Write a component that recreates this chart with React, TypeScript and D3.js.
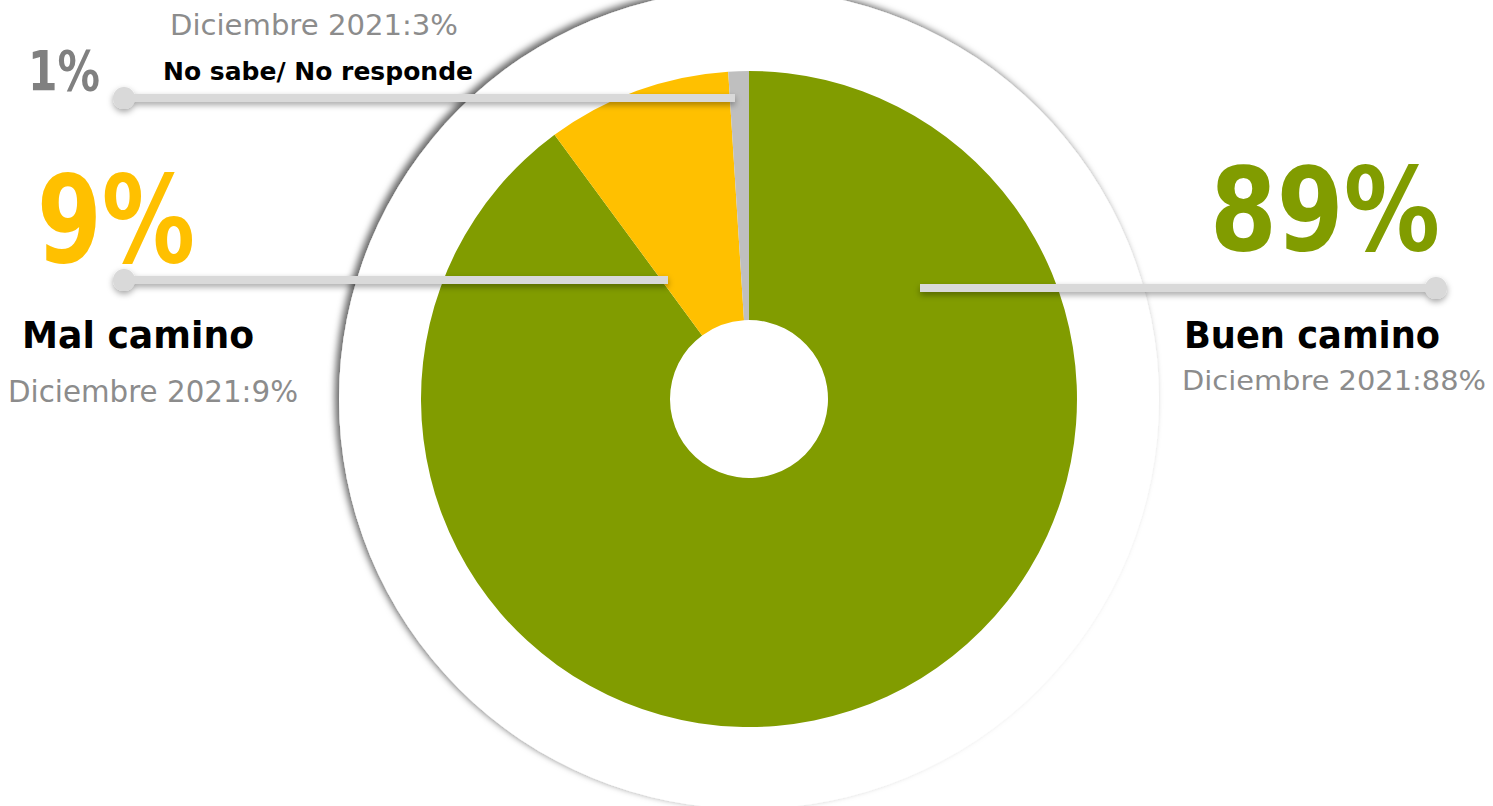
import React from "react";
import * as d3 from "d3";

const categories = ["Buen camino", "Mal camino", "No sabe/ No responde"];
const values = [89, 9, 1];
const previous = ["Diciembre 2021:88%", "Diciembre 2021:9%", "Diciembre 2021:3%"];
const colors = ["#819C00", "#FFC000", "#BFBFBF"];
const pctLabels = ["89%", "9%", "1%"];

const W = 1493;
const H = 806;
const FONT = "'DejaVu Sans', 'Liberation Sans', sans-serif";

export default function App() {
  const cx = 749;
  const cy = 399;
  const outerR = 328;
  const innerR = 79;
  const discR = 410;

  const pie = d3.pie<number>().sort(null).value((d) => d);
  const arcs = pie(values);
  const arcGen = d3.arc<d3.PieArcDatum<number>>().innerRadius(innerR).outerRadius(outerR);

  const lineColor = "#D9D9D9";

  return (
    <div style={{ position: "fixed", left: 0, top: 0, width: W, height: H, overflow: "hidden" }}>
      <svg width={W} height={H} style={{ display: "block" }}>
        <defs>
          <filter id="discShadow" x="-20%" y="-20%" width="140%" height="140%">
            <feDropShadow dx={-4} dy={-3} stdDeviation={3.5} floodColor="#000" floodOpacity={0.6} />
          </filter>
          <filter id="lineShadow" x="-10%" y="-200%" width="120%" height="500%">
            <feDropShadow dx={0} dy={3} stdDeviation={3} floodColor="#000" floodOpacity={0.35} />
          </filter>
        </defs>
        <rect width={W} height={H} fill="#fff" />
        <circle cx={cx} cy={cy} r={discR} fill="#fff" filter="url(#discShadow)" />
        <g transform={`translate(${cx},${cy})`}>
          {arcs.map((a, i) => (
            <path key={categories[i]} d={arcGen(a) || ""} fill={colors[i]} />
          ))}
        </g>

        {/* leader lines */}
        <g filter="url(#lineShadow)">
          <line x1={124} y1={98} x2={735} y2={98} stroke={lineColor} strokeWidth={8} />
          <circle cx={124} cy={98} r={11} fill={lineColor} />
          <line x1={124} y1={280} x2={668} y2={280} stroke={lineColor} strokeWidth={8} />
          <circle cx={124} cy={280} r={11} fill={lineColor} />
          <line x1={920} y1={288} x2={1436} y2={288} stroke={lineColor} strokeWidth={8} />
          <circle cx={1436} cy={288} r={11} fill={lineColor} />
        </g>

        {/* No sabe */}
        <text x={170} y={35} fontFamily={FONT} fontSize={28} fill="#8C8C8C" textLength={288} lengthAdjust="spacingAndGlyphs">
          {previous[2]}
        </text>
        <text x={163} y={80} fontFamily={FONT} fontSize={24} fontWeight="bold" fill="#000" textLength={310} lengthAdjust="spacingAndGlyphs">
          {categories[2]}
        </text>
        <text x={28} y={90} fontFamily={FONT} fontSize={56} fontWeight="bold" fill="#808080" textLength={72} lengthAdjust="spacingAndGlyphs">
          {pctLabels[2]}
        </text>

        {/* Mal camino */}
        <text x={37} y={262} fontFamily={FONT} fontSize={122} fontWeight="bold" fill={colors[1]} textLength={158} lengthAdjust="spacingAndGlyphs">
          {pctLabels[1]}
        </text>
        <text x={22} y={348} fontFamily={FONT} fontSize={38} fontWeight="bold" fill="#000" textLength={232} lengthAdjust="spacingAndGlyphs">
          {categories[1]}
        </text>
        <text x={8} y={402} fontFamily={FONT} fontSize={30} fill="#8C8C8C" textLength={290} lengthAdjust="spacingAndGlyphs">
          {previous[1]}
        </text>

        {/* Buen camino */}
        <text x={1210} y={250} fontFamily={FONT} fontSize={116} fontWeight="bold" fill={colors[0]} textLength={230} lengthAdjust="spacingAndGlyphs">
          {pctLabels[0]}
        </text>
        <text x={1184} y={348} fontFamily={FONT} fontSize={38} fontWeight="bold" fill="#000" textLength={256} lengthAdjust="spacingAndGlyphs">
          {categories[0]}
        </text>
        <text x={1182} y={390} fontFamily={FONT} fontSize={27} fill="#8C8C8C" textLength={304} lengthAdjust="spacingAndGlyphs">
          {previous[0]}
        </text>
      </svg>
    </div>
  );
}
